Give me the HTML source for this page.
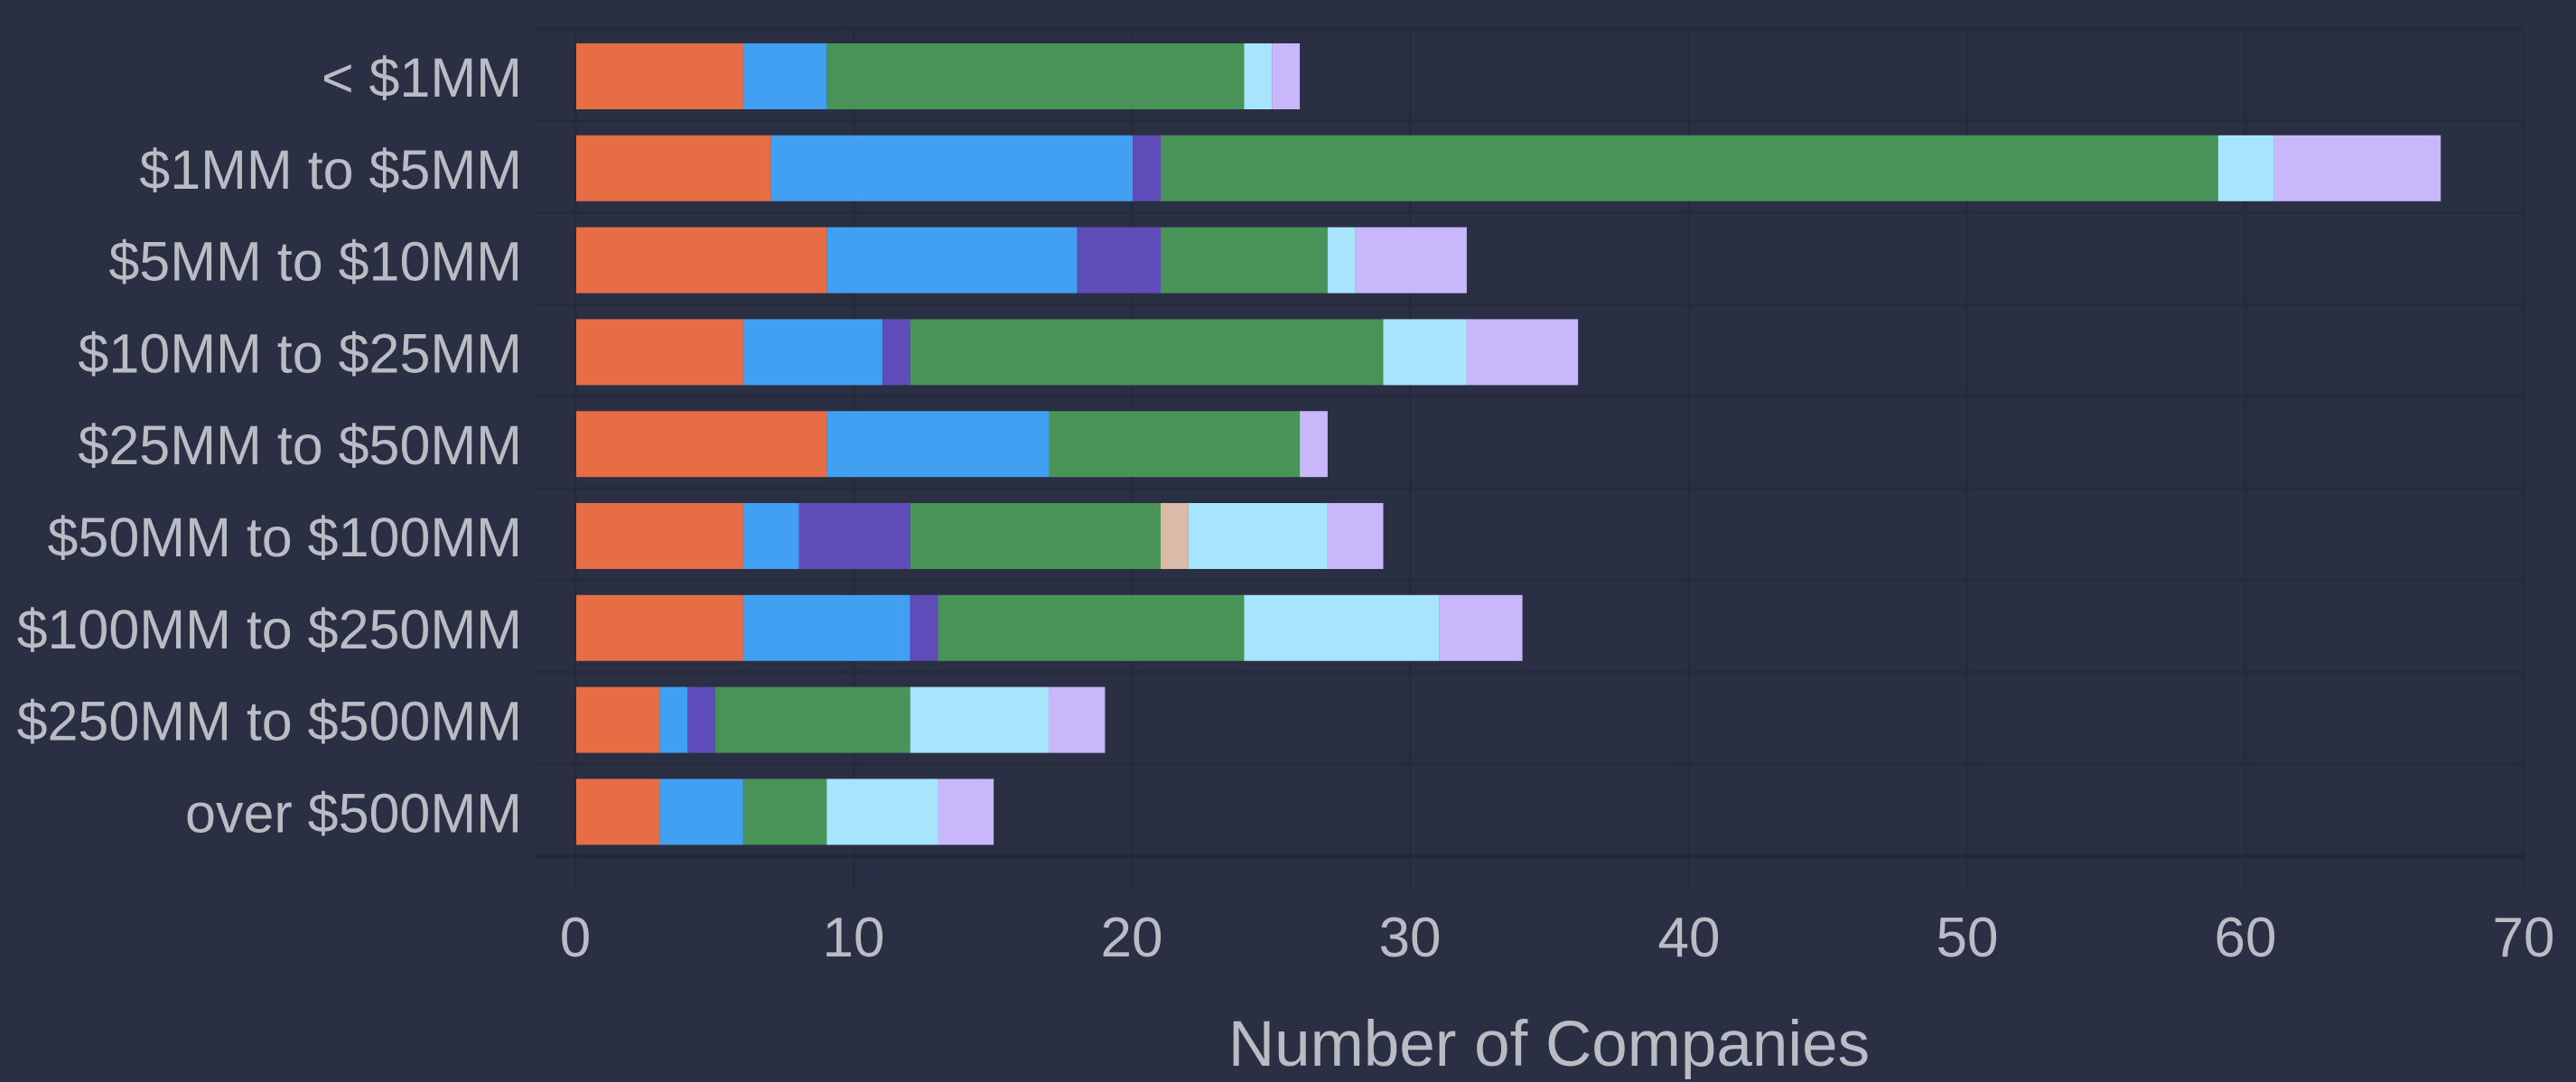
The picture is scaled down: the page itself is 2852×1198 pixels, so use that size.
<!DOCTYPE html>
<html><head><meta charset="utf-8"><style>
html,body{margin:0;padding:0;background:#2b3044;}
svg{display:block;}
text{font-family:"Liberation Sans",sans-serif;fill:#b9bcc3;}
</style></head><body>
<svg width="2852" height="1198" viewBox="0 0 2852 1198" xmlns="http://www.w3.org/2000/svg">
<rect width="2852" height="1198" fill="#2a2f43"/>
<g stroke="#262a3b" stroke-width="3">
<line x1="592" y1="32" x2="2795" y2="32"/>
<line x1="592" y1="133.8" x2="2795" y2="133.8"/>
<line x1="592" y1="235.6" x2="2795" y2="235.6"/>
<line x1="592" y1="337.3" x2="2795" y2="337.3"/>
<line x1="592" y1="439.1" x2="2795" y2="439.1"/>
<line x1="592" y1="540.9" x2="2795" y2="540.9"/>
<line x1="592" y1="642.7" x2="2795" y2="642.7"/>
<line x1="592" y1="744.4" x2="2795" y2="744.4"/>
<line x1="592" y1="846.2" x2="2795" y2="846.2"/>
<line x1="637" y1="32" x2="637" y2="985"/>
<line x1="945.1" y1="32" x2="945.1" y2="985"/>
<line x1="1253.3" y1="32" x2="1253.3" y2="985"/>
<line x1="1561.4" y1="32" x2="1561.4" y2="985"/>
<line x1="1869.6" y1="32" x2="1869.6" y2="985"/>
<line x1="2177.7" y1="32" x2="2177.7" y2="985"/>
<line x1="2485.9" y1="32" x2="2485.9" y2="985"/>
<line x1="2794" y1="32" x2="2794" y2="985"/>
</g>
<line x1="592" y1="948" x2="2795" y2="948" stroke="#23273a" stroke-width="5"/>
<g transform="translate(638,0) scale(30.81,1)">
<rect x="0" y="48" width="6" height="73" fill="#e76d45"/>
<rect x="6" y="48" width="3" height="73" fill="#42a0f3"/>
<rect x="9" y="48" width="15" height="73" fill="#4a9358"/>
<rect x="24" y="48" width="1" height="73" fill="#a8e4fb"/>
<rect x="25" y="48" width="1" height="73" fill="#c8b8fb"/>
<rect x="0" y="149.8" width="7" height="73" fill="#e76d45"/>
<rect x="7" y="149.8" width="13" height="73" fill="#42a0f3"/>
<rect x="20" y="149.8" width="1" height="73" fill="#5e4db8"/>
<rect x="21" y="149.8" width="38" height="73" fill="#4a9358"/>
<rect x="59" y="149.8" width="2" height="73" fill="#a8e4fb"/>
<rect x="61" y="149.8" width="6" height="73" fill="#c8b8fb"/>
<rect x="0" y="251.6" width="9" height="73" fill="#e76d45"/>
<rect x="9" y="251.6" width="9" height="73" fill="#42a0f3"/>
<rect x="18" y="251.6" width="3" height="73" fill="#5e4db8"/>
<rect x="21" y="251.6" width="6" height="73" fill="#4a9358"/>
<rect x="27" y="251.6" width="1" height="73" fill="#a8e4fb"/>
<rect x="28" y="251.6" width="4" height="73" fill="#c8b8fb"/>
<rect x="0" y="353.4" width="6" height="73" fill="#e76d45"/>
<rect x="6" y="353.4" width="5" height="73" fill="#42a0f3"/>
<rect x="11" y="353.4" width="1" height="73" fill="#5e4db8"/>
<rect x="12" y="353.4" width="17" height="73" fill="#4a9358"/>
<rect x="29" y="353.4" width="3" height="73" fill="#a8e4fb"/>
<rect x="32" y="353.4" width="4" height="73" fill="#c8b8fb"/>
<rect x="0" y="455.2" width="9" height="73" fill="#e76d45"/>
<rect x="9" y="455.2" width="8" height="73" fill="#42a0f3"/>
<rect x="17" y="455.2" width="9" height="73" fill="#4a9358"/>
<rect x="26" y="455.2" width="1" height="73" fill="#c8b8fb"/>
<rect x="0" y="557" width="6" height="73" fill="#e76d45"/>
<rect x="6" y="557" width="2" height="73" fill="#42a0f3"/>
<rect x="8" y="557" width="4" height="73" fill="#5e4db8"/>
<rect x="12" y="557" width="9" height="73" fill="#4a9358"/>
<rect x="21" y="557" width="1" height="73" fill="#d9bba7"/>
<rect x="22" y="557" width="5" height="73" fill="#a8e4fb"/>
<rect x="27" y="557" width="2" height="73" fill="#c8b8fb"/>
<rect x="0" y="658.8" width="6" height="73" fill="#e76d45"/>
<rect x="6" y="658.8" width="6" height="73" fill="#42a0f3"/>
<rect x="12" y="658.8" width="1" height="73" fill="#5e4db8"/>
<rect x="13" y="658.8" width="11" height="73" fill="#4a9358"/>
<rect x="24" y="658.8" width="7" height="73" fill="#a8e4fb"/>
<rect x="31" y="658.8" width="3" height="73" fill="#c8b8fb"/>
<rect x="0" y="760.6" width="3" height="73" fill="#e76d45"/>
<rect x="3" y="760.6" width="1" height="73" fill="#42a0f3"/>
<rect x="4" y="760.6" width="1" height="73" fill="#5e4db8"/>
<rect x="5" y="760.6" width="7" height="73" fill="#4a9358"/>
<rect x="12" y="760.6" width="5" height="73" fill="#a8e4fb"/>
<rect x="17" y="760.6" width="2" height="73" fill="#c8b8fb"/>
<rect x="0" y="862.4" width="3" height="73" fill="#e76d45"/>
<rect x="3" y="862.4" width="3" height="73" fill="#42a0f3"/>
<rect x="6" y="862.4" width="3" height="73" fill="#4a9358"/>
<rect x="9" y="862.4" width="4" height="73" fill="#a8e4fb"/>
<rect x="13" y="862.4" width="2" height="73" fill="#c8b8fb"/>
</g>
<g font-size="61" text-anchor="end">
<text x="578" y="107">&lt; $1MM</text>
<text x="578" y="208.8">$1MM to $5MM</text>
<text x="578" y="310.6">$5MM to $10MM</text>
<text x="578" y="412.4">$10MM to $25MM</text>
<text x="578" y="514.2">$25MM to $50MM</text>
<text x="578" y="616">$50MM to $100MM</text>
<text x="578" y="717.8">$100MM to $250MM</text>
<text x="578" y="819.6">$250MM to $500MM</text>
<text x="578" y="921.4">over $500MM</text>
</g>
<g font-size="62" text-anchor="middle">
<text x="637" y="1059">0</text>
<text x="945" y="1059">10</text>
<text x="1253" y="1059">20</text>
<text x="1561" y="1059">30</text>
<text x="1870" y="1059">40</text>
<text x="2178" y="1059">50</text>
<text x="2486" y="1059">60</text>
<text x="2794" y="1059">70</text>
</g>
<text x="1715" y="1180" font-size="71" text-anchor="middle">Number of Companies</text>
</svg>
</body></html>
